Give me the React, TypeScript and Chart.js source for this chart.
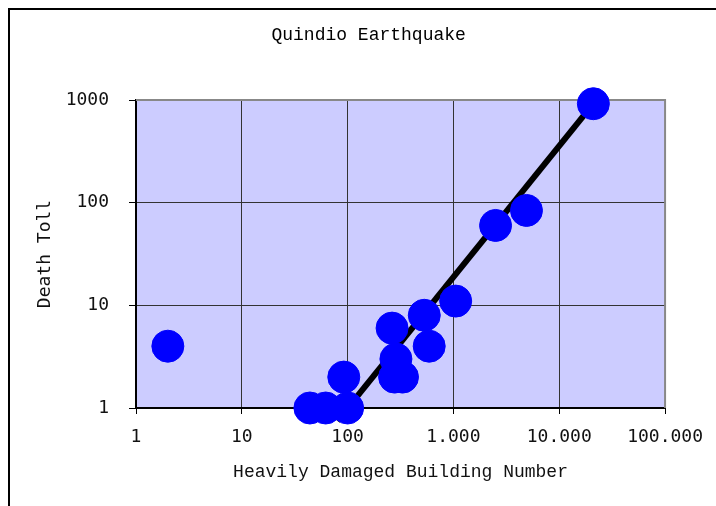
import React, { useEffect, useRef } from 'react';
import { Chart, registerables } from 'chart.js';

Chart.register(...registerables);

// Heavily damaged buildings vs. deaths, one entry per locality
const buildingCounts = [2, 44, 62, 100, 92, 263, 286, 278, 330, 530, 590, 1050, 2500, 4900, 21000];
const deathTolls = [4, 1, 1, 1, 2, 6, 3, 2, 2, 8, 4, 11, 60, 84, 920];

// Power-law fit line end points
const trendBuildings = [80, 21000];
const trendDeaths = [0.75, 920];

const xTickValues = [1, 10, 100, 1000, 10000, 100000];
const xTickLabels = ['1', '10', '100', '1.000', '10.000', '100.000'];
const yTickValues = [1, 10, 100, 1000];
const yTickLabels = ['1', '10', '100', '1000'];

const chartTitle = 'Quindio Earthquake';
const xTitle = 'Heavily Damaged Building Number';
const yTitle = 'Death Toll';

const serifMono = "'Liberation Mono', 'Courier New', monospace";
const sansMono = "'DejaVu Sans Mono', 'DejaVu Sans', sans-serif";

const plotFrame = {
  id: 'plotFrame',
  beforeDraw(chart: any) {
    const { ctx, chartArea: a } = chart;
    ctx.save();
    ctx.fillStyle = '#CCCCFF';
    ctx.fillRect(a.left, a.top, a.right - a.left, a.bottom - a.top);
    ctx.restore();
  },
  beforeDatasetsDraw(chart: any) {
    const { ctx, chartArea: a } = chart;
    ctx.save();
    ctx.strokeStyle = '#888888';
    ctx.lineWidth = 2;
    ctx.beginPath();
    ctx.moveTo(a.left, a.top);
    ctx.lineTo(a.right, a.top);
    ctx.lineTo(a.right, a.bottom);
    ctx.stroke();
    ctx.restore();
  },
  afterDraw(chart: any) {
    const { ctx } = chart;
    ctx.save();
    ctx.fillStyle = '#000000';
    ctx.font = `18px ${serifMono}`;
    ctx.textAlign = 'center';
    ctx.textBaseline = 'middle';
    ctx.fillText(chartTitle, chart.width * 0.508, 25);
    ctx.restore();
  },
};

export default function App() {
  const canvasRef = useRef<HTMLCanvasElement | null>(null);

  useEffect(() => {
    if (!canvasRef.current) return;
    const points = buildingCounts.map((x, i) => ({ x, y: deathTolls[i] }));
    const trend = trendBuildings.map((x, i) => ({ x, y: trendDeaths[i] }));

    const chart = new Chart(canvasRef.current, {
      type: 'scatter',
      data: {
        datasets: [
          {
            type: 'scatter',
            data: points,
            backgroundColor: '#0000FF',
            borderColor: '#0000FF',
            borderWidth: 1,
            pointRadius: 16,
            pointHoverRadius: 16,
            clip: false as any,
            order: 1,
          },
          {
            type: 'line',
            data: trend,
            borderColor: '#000000',
            borderWidth: 6,
            pointRadius: 0,
            fill: false,
            clip: false as any,
            order: 2,
          } as any,
        ],
      },
      options: {
        animation: false,
        responsive: false,
        events: [],
        layout: { padding: { top: 90, right: 50, left: 0, bottom: 0 } },
        plugins: {
          legend: { display: false },
          tooltip: { enabled: false },
          title: { display: false },
        },
        scales: {
          x: {
            type: 'logarithmic',
            position: 'bottom',
            min: 1,
            max: 100000,
            afterBuildTicks: (s: any) => {
              s.ticks = xTickValues.map((value) => ({ value }));
            },
            afterFit: (s: any) => {
              s.height = 98;
            },
            ticks: {
              autoSkip: false,
              maxRotation: 0,
              padding: 13,
              color: '#111111',
              font: { family: sansMono, size: 18 },
              callback: (v: any) => xTickLabels[xTickValues.indexOf(Number(v))] ?? '',
            },
            grid: { color: '#333333', lineWidth: 1, tickLength: 6, tickColor: '#000000' },
            border: { color: '#000000', width: 2 },
            title: {
              display: true,
              text: xTitle,
              color: '#111111',
              font: { family: serifMono, size: 18 },
              padding: { top: 0, bottom: 23 },
            },
          },
          y: {
            type: 'logarithmic',
            position: 'left',
            min: 1,
            max: 1000,
            afterBuildTicks: (s: any) => {
              s.ticks = yTickValues.map((value) => ({ value }));
            },
            afterFit: (s: any) => {
              s.width = 126;
            },
            ticks: {
              autoSkip: false,
              padding: 20,
              color: '#111111',
              font: { family: sansMono, size: 18 },
              callback: (v: any) => yTickLabels[yTickValues.indexOf(Number(v))] ?? '',
            },
            grid: { color: '#333333', lineWidth: 1, tickLength: 7, tickColor: '#000000' },
            border: { color: '#000000', width: 2 },
            title: {
              display: true,
              text: yTitle,
              color: '#111111',
              font: { family: sansMono, size: 18 },
              padding: { top: 25, bottom: 0 },
            },
          },
        },
      },
      plugins: [plotFrame],
    } as any);

    return () => chart.destroy();
  }, []);

  return (
    <div
      style={{
        position: 'fixed',
        left: 8,
        top: 8,
        width: 708,
        height: 498,
        boxSizing: 'border-box',
        borderTop: '2px solid #000',
        borderLeft: '2px solid #000',
        background: '#fff',
      }}
    >
      <canvas ref={canvasRef} width={706} height={496} style={{ display: 'block', width: 706, height: 496 }} />
    </div>
  );
}
